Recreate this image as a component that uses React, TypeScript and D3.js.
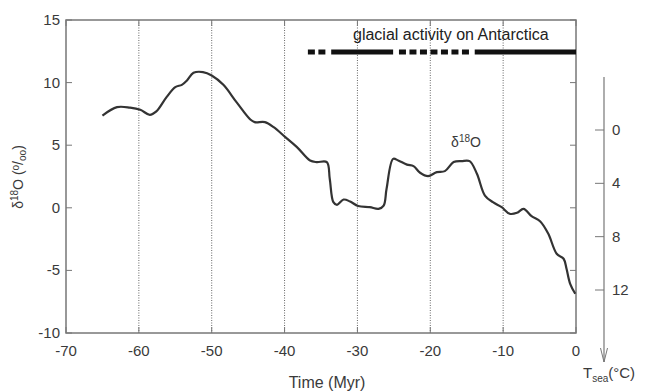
import React from "react";
import * as d3 from "d3";

const timeTicks = [-70, -60, -50, -40, -30, -20, -10, 0];
const d18oTicks = [15, 10, 5, 0, -5, -10];
const tempTicks = [0, 4, 8, 12];
const gridTimes = [-60, -50, -40, -30, -20, -10];

const seriesTime = [
  -65.0, -63.0, -61.2, -59.8, -58.5, -57.6, -56.2, -55.0, -54.1, -53.4, -52.5, -51.2, -50.0, -48.4, -46.6,
  -44.7, -44.1, -42.7, -41.5, -39.9, -38.3, -36.5, -35.6, -34.2, -33.8, -33.3, -32.8, -31.9, -31.0, -29.9,
  -28.3, -27.1, -26.4, -26.0, -25.1, -24.4, -23.2, -22.3, -21.4, -20.3, -19.1, -18.0, -16.8, -15.7, -14.6,
  -13.6, -12.5, -11.4, -10.2, -9.1, -8.1, -7.2, -6.1, -4.9, -3.8, -2.65, -1.7, -1.3, -0.8, -0.1,
];
const seriesD18O = [
  7.37, 8.04, 8.0, 7.83, 7.43, 7.7, 8.84, 9.64, 9.82, 10.17, 10.78, 10.84, 10.57, 9.82, 8.44,
  7.05, 6.84, 6.84, 6.44, 5.65, 4.85, 3.78, 3.65, 3.65, 2.32, 0.45, 0.24, 0.66, 0.5, 0.14,
  0.05, -0.08, 0.18, 1.52, 3.91, 3.78, 3.45, 3.33, 2.8, 2.53, 2.85, 2.93, 3.65, 3.73, 3.73,
  2.72, 0.98, 0.45, 0.05, -0.48, -0.4, -0.08, -0.67, -1.09, -2.08, -3.67, -4.07, -4.87, -6.07, -6.87,
];

const glacialStart = [-36.8, -33.6, -24.3, -13.9];
const glacialEnd = [-34.3, -25.1, -14.4, 0];
const glacialDashed = [true, false, true, false];

const FONT = "Liberation Sans, Arial, sans-serif";
const TXT = "#3a3a3a";

export default function App() {
  const W = 645, H = 392;
  const x = d3.scaleLinear().domain([-70, 0]).range([66, 576]);
  const y = d3.scaleLinear().domain([-10, 15]).range([333, 20]);
  const t = d3.scaleLinear().domain([0, 12]).range([130, 290]);
  const pts = seriesTime.map((tm, i) => [tm, seriesD18O[i]] as [number, number]);
  const line = d3.line<[number, number]>().x(d => x(d[0])).y(d => y(d[1])).curve(d3.curveCatmullRom.alpha(0.5));
  const axisX = 604;
  const barY = 52;

  return (
    <svg width={W} height={H} style={{ position: "absolute", left: 0, top: 0, background: "#fff" }} fontFamily={FONT}>
      <rect x={0} y={0} width={W} height={H} fill="#fff" />
      {gridTimes.map(g => (
        <line key={g} x1={x(g)} x2={x(g)} y1={y(15)} y2={y(-10)} stroke="#666" strokeWidth={1} strokeDasharray="1,1.5" />
      ))}
      {timeTicks.map(v => (
        <g key={"xt" + v}>
          <line x1={x(v)} x2={x(v)} y1={y(-10)} y2={y(-10) - 6} stroke="#777" />
          <line x1={x(v)} x2={x(v)} y1={y(15)} y2={y(15) + 6} stroke="#777" />
          <text x={x(v)} y={356} textAnchor="middle" fontSize={15} fill={TXT}>{v}</text>
        </g>
      ))}
      {d18oTicks.map(v => (
        <g key={"yt" + v}>
          <line x1={x(-70)} x2={x(-70) + 6} y1={y(v)} y2={y(v)} stroke="#777" />
          <line x1={x(0)} x2={x(0) - 6} y1={y(v)} y2={y(v)} stroke="#777" />
          <text x={60} y={y(v) + 5} textAnchor="end" fontSize={15} fill={TXT}>{v}</text>
        </g>
      ))}
      <rect x={x(-70)} y={y(15)} width={x(0) - x(-70)} height={y(-10) - y(15)} fill="none" stroke="#777" strokeWidth={1.5} />
      <path d={line(pts) || ""} fill="none" stroke="#333" strokeWidth={2.2} strokeLinejoin="round" />
      {glacialStart.map((s, i) => (
        <line key={"gb" + i} x1={x(s)} x2={x(glacialEnd[i])} y1={barY} y2={barY} stroke="#111" strokeWidth={5}
          strokeDasharray={glacialDashed[i] ? "7,3.5" : undefined} />
      ))}
      <text x={353} y={40} fontSize={16} fill="#222">glacial activity on Antarctica</text>
      <text x={466} y={147} textAnchor="middle" fontSize={14} fill={TXT}>
        δ<tspan fontSize={10} dy={-5}>18</tspan><tspan dy={5}>O</tspan>
      </text>
      <line x1={axisX} x2={axisX} y1={77} y2={362} stroke="#777" strokeWidth={1.2} />
      <path d={`M${axisX - 3.5},348 L${axisX},362 L${axisX + 3.5},348`} fill="none" stroke="#777" strokeWidth={1} />
      {tempTicks.map(v => (
        <g key={"tt" + v}>
          <line x1={axisX - 9} x2={axisX} y1={t(v)} y2={t(v)} stroke="#777" />
          <text x={612} y={t(v) + 5} fontSize={15} fill={TXT}>{v}</text>
        </g>
      ))}
      <text x={583} y={378} fontSize={15} fill={TXT}>
        T<tspan fontSize={10} dy={4}>sea</tspan><tspan dy={-4}>(°C)</tspan>
      </text>
      <text x={327} y={388} textAnchor="middle" fontSize={16} fill={TXT}>Time (Myr)</text>
      <text transform="translate(23,177) rotate(-90)" textAnchor="middle" fontSize={14} fill={TXT}>
        δ<tspan fontSize={10} dy={-5}>18</tspan><tspan dy={5}>O (</tspan><tspan fontSize={10} dy={-4}>o</tspan><tspan dy={4}>/</tspan><tspan fontSize={10} dy={3}>oo</tspan><tspan dy={-3}>)</tspan>
      </text>
    </svg>
  );
}
